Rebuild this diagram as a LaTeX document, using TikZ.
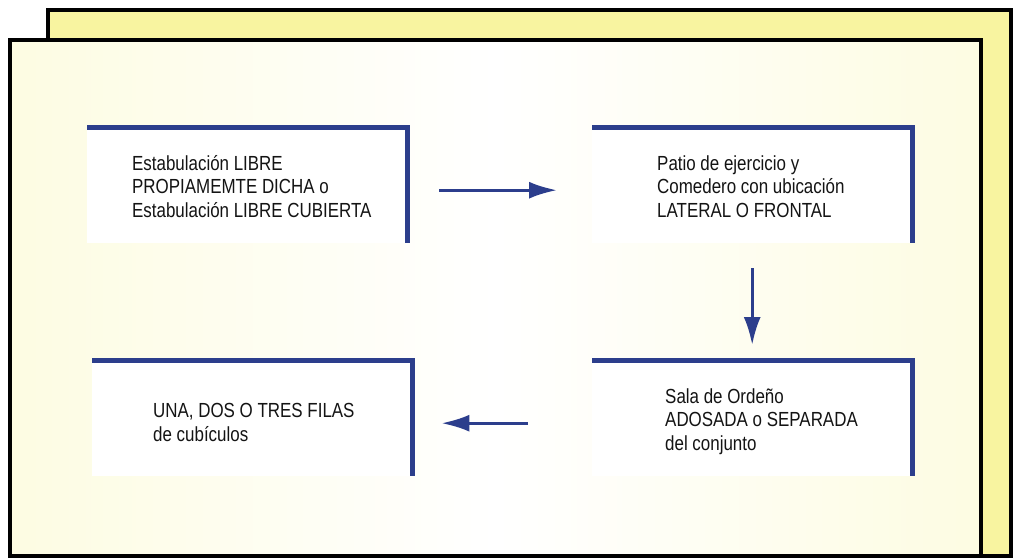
\documentclass[tikz,border=0pt]{standalone}
\usepackage{fontspec}
\setmainfont{Liberation Sans}[FakeStretch=0.83]
\usetikzlibrary{arrows.meta}
\definecolor{backyellow}{RGB}{248,244,160}
\definecolor{cream}{RGB}{253,252,226}
\definecolor{boxblue}{RGB}{44,62,140}
\definecolor{inkgray}{RGB}{20,20,20}
\tikzset{
  panel/.style={draw=black, line width=4pt},
  boxarea/.style={fill=white, minimum width=320pt, minimum height=116pt, inner sep=0pt, anchor=north west},
  boxtext/.style={anchor=base west, align=left, inner sep=0pt, font=\fontsize{20.4}{23.5}\selectfont, text=inkgray},
  edge/.style={boxblue, line width=5pt},
  flow/.style={boxblue, line width=3pt, -{Latex[length=28pt,width=17pt]}}
}

\begin{document}
\begin{tikzpicture}[x=1pt,y=-1pt]
    	\useasboundingbox[fill=white] (0,0) rectangle (1016,559);
    	% panels
    	\filldraw[panel, fill=backyellow] (48,10) rectangle (1011,556);
    	\shade[left color=cream, right color=cream, middle color=white] (10,40) rectangle (981,556);
    	\draw[panel] (10,40) rectangle (981,556);
    	% boxes
    	\node[boxarea] (b1) at (87,127) {};
    	\node[boxarea] (b2) at (592,127) {};
    	\node[boxarea] (b3) at (92,360) {};
    	\node[boxarea] (b4) at (592,360) {};
    	\draw[edge] (b1.north west) -- (b1.north east) -- (b1.south east);
    	\draw[edge] (b2.north west) -- (b2.north east) -- (b2.south east);
    	\draw[edge] (b3.north west) -- (b3.north east) -- (b3.south east);
    	\draw[edge] (b4.north west) -- (b4.north east) -- (b4.south east);
    	% text, placed at the baseline of the last line
    	\node[boxtext] (t1) at (132,217) {Estabulación LIBRE\\PROPIAMEMTE DICHA o\\Estabulación LIBRE CUBIERTA};
    	\node[boxtext] (t2) at (657,217) {Patio de ejercicio y\\Comedero con ubicación\\LATERAL O FRONTAL};
    	\node[boxtext] (t3) at (153,441) {UNA, DOS O TRES FILAS\\de cubículos};
    	\node[boxtext] (t4) at (665,450) {Sala de Ordeño\\ADOSADA o SEPARADA\\del conjunto};
    	% arrows
    	\draw[flow] ([xshift=32pt,yshift=-5pt]b1.east) -- ([xshift=-35pt,yshift=-5pt]b2.west);
    	\draw[flow] ([yshift=-25pt]b2.south) -- ([yshift=15pt]b4.north);
    	\draw[flow] ([xshift=-64pt,yshift=-5pt]b4.west) -- ([xshift=29pt,yshift=-5pt]b3.east);
\end{tikzpicture}
\end{document}
